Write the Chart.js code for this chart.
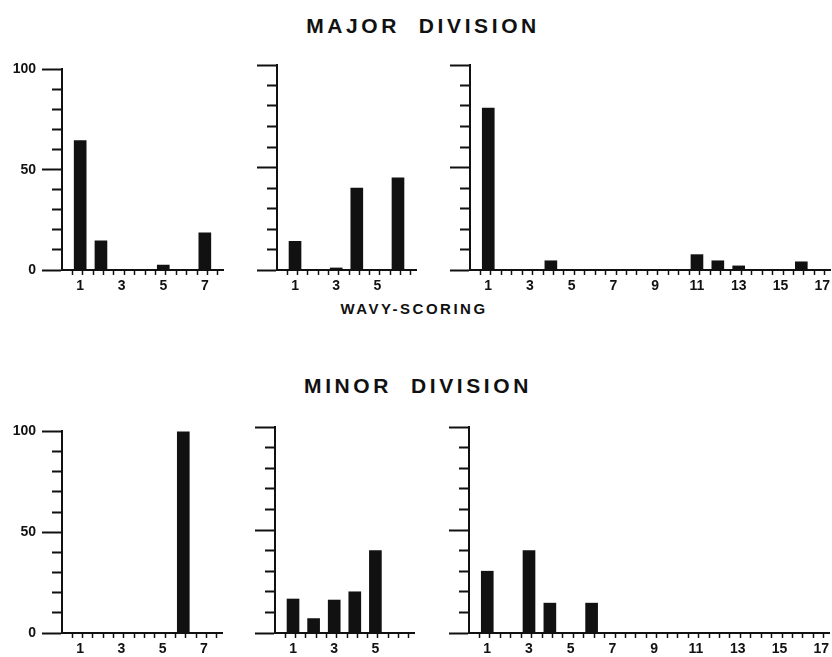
<!DOCTYPE html>
<html>
<head>
<meta charset="utf-8">
<script src="https://cdn.jsdelivr.net/npm/chart.js@4/dist/chart.umd.min.js"></script>
<style>
  html, body { margin: 0; padding: 0; background: #fff; }
  body { width: 832px; height: 657px; position: relative; overflow: hidden;
         font-family: "Liberation Sans", Arial, sans-serif; }
  .title { position: absolute; font-weight: bold; color: #111; white-space: pre;
           transform: translateX(-50%); }
  .big { font-size: 21px; line-height: 21px; letter-spacing: 3.6px; }
  .small { font-size: 15px; line-height: 15px; letter-spacing: 2.5px; }
  canvas { position: absolute; }
</style>
</head>
<body>
<div class="title big" style="left:423px; top:15px;">MAJOR  DIVISION</div>
<div class="title small" style="left:414px; top:301px;">WAVY-SCORING</div>
<div class="title big" style="left:418px; top:375px;">MINOR  DIVISION</div>

<canvas id="majorA"></canvas>
<canvas id="majorB"></canvas>
<canvas id="majorC"></canvas>
<canvas id="minorA"></canvas>
<canvas id="minorB"></canvas>
<canvas id="minorC"></canvas>

<script>
// Percent of specimens in each wavy-scoring class
const majorACategories = [1, 2, 3, 4, 5, 6, 7];
const majorAValues     = [64.5, 14.5, 0, 0, 2.5, 0, 18.5];

const majorBCategories = [1, 2, 3, 4, 5, 6];
const majorBValues     = [14, 0, 1, 40, 0, 45];

const majorCCategories = [1, 2, 3, 4, 5, 6, 7, 8, 9, 10, 11, 12, 13, 14, 15, 16, 17];
const majorCValues     = [79, 0, 0, 4.5, 0, 0, 0, 0, 0, 0, 7.5, 4.5, 2, 0, 0, 4, 0];

const minorACategories = [1, 2, 3, 4, 5, 6, 7];
const minorAValues     = [0, 0, 0, 0, 0, 100, 0];

const minorBCategories = [1, 2, 3, 4, 5, 6];
const minorBValues     = [16.5, 7, 16, 20, 40, 0];

const minorCCategories = [1, 2, 3, 4, 5, 6, 7, 8, 9, 10, 11, 12, 13, 14, 15, 16, 17];
const minorCValues     = [30, 0, 40, 14.5, 0, 14.5, 0, 0, 0, 0, 0, 0, 0, 0, 0, 0, 0];

// Labelled y ticks (left column only) and x range start
const yTickLabels = [0, 50, 100];
const xMinValue = 0.25;

// Panel placement: plot-area box in page pixels
const panels = [
  { id: 'majorA', cats: majorACategories, vals: majorAValues, xMax: 7.75,  left: 62,  top: 65,  w: 161, h: 205, yLabels: true },
  { id: 'majorB', cats: majorBCategories, vals: majorBValues, xMax: 6.75,  left: 277, top: 65,  w: 139, h: 205, yLabels: false },
  { id: 'majorC', cats: majorCCategories, vals: majorCValues, xMax: 17.25, left: 470, top: 65,  w: 360, h: 205, yLabels: false },
  { id: 'minorA', cats: minorACategories, vals: minorAValues, xMax: 7.75,  left: 62,  top: 427, w: 160, h: 206, yLabels: true },
  { id: 'minorB', cats: minorBCategories, vals: minorBValues, xMax: 6.75,  left: 275, top: 427, w: 139, h: 206, yLabels: false },
  { id: 'minorC', cats: minorCCategories, vals: minorCValues, xMax: 17.25, left: 469, top: 427, w: 360, h: 206, yLabels: false }
];

const INK = '#111';
const tickFont = { family: '"Liberation Sans", Arial, sans-serif', size: 14, weight: 'bold' };
const PAD_TOP = 10, PAD_RIGHT = 10, X_AXIS_H = 32;

function isNear(a, b) { return Math.abs(a - b) < 1e-6; }

function buildPanel(p) {
  const yW = p.yLabels ? p.left : 30;
  const canvas = document.getElementById(p.id);
  canvas.width = yW + p.w + PAD_RIGHT;
  canvas.height = PAD_TOP + p.h + X_AXIS_H;
  canvas.style.left = (p.left - yW) + 'px';
  canvas.style.top = (p.top - PAD_TOP) + 'px';

  new Chart(canvas, {
    type: 'bar',
    data: {
      datasets: [{
        data: p.cats.map((c, i) => ({ x: c, y: p.vals[i] })),
        backgroundColor: INK,
        borderWidth: 0,
        barThickness: 12
      }]
    },
    options: {
      responsive: false,
      animation: false,
      events: [],
      layout: { padding: { top: PAD_TOP, right: PAD_RIGHT, left: 0, bottom: 0 } },
      plugins: { legend: { display: false }, tooltip: { enabled: false } },
      scales: {
        x: {
          type: 'linear',
          min: xMinValue,
          max: p.xMax,
          afterFit(s) { s.height = X_AXIS_H; },
          border: { display: true, color: INK, width: 2 },
          grid: {
            drawOnChartArea: false,
            drawTicks: true,
            tickLength: 5,
            tickWidth: 1.5,
            // marks sit half a bar-width either side of each class
            tickColor: ctx => {
              const v = ctx.tick ? ctx.tick.value : 0;
              const q = Math.round(v * 4);
              return (q % 2 === 1 && !isNear(v, xMinValue)) ? INK : 'rgba(0,0,0,0)';
            }
          },
          ticks: {
            stepSize: 0.25,
            autoSkip: false,
            maxRotation: 0,
            minRotation: 0,
            maxTicksLimit: 1000,
            padding: 3,
            color: INK,
            font: tickFont,
            callback: v => {
              const r = Math.round(v);
              return (isNear(v, r) && r % 2 === 1) ? String(r) : '';
            }
          }
        },
        y: {
          min: 0,
          max: 100,
          afterFit(s) { s.width = yW; },
          border: { display: true, color: INK, width: 2 },
          grid: {
            drawOnChartArea: false,
            drawTicks: true,
            tickLength: 20,
            tickWidth: 2,
            tickColor: INK,
            // long marks at 0, 50, 100; short marks elsewhere
            tickBorderDash: ctx => {
              const v = ctx.tick ? ctx.tick.value : 0;
              return (v % 50 === 0) ? [] : [0, 10, 10, 60];
            }
          },
          ticks: {
            stepSize: 10,
            display: p.yLabels,
            padding: 6,
            color: INK,
            font: tickFont,
            callback: v => yTickLabels.includes(v) ? String(v) : ''
          }
        }
      }
    }
  });
}

panels.forEach(buildPanel);
</script>
</body>
</html>
